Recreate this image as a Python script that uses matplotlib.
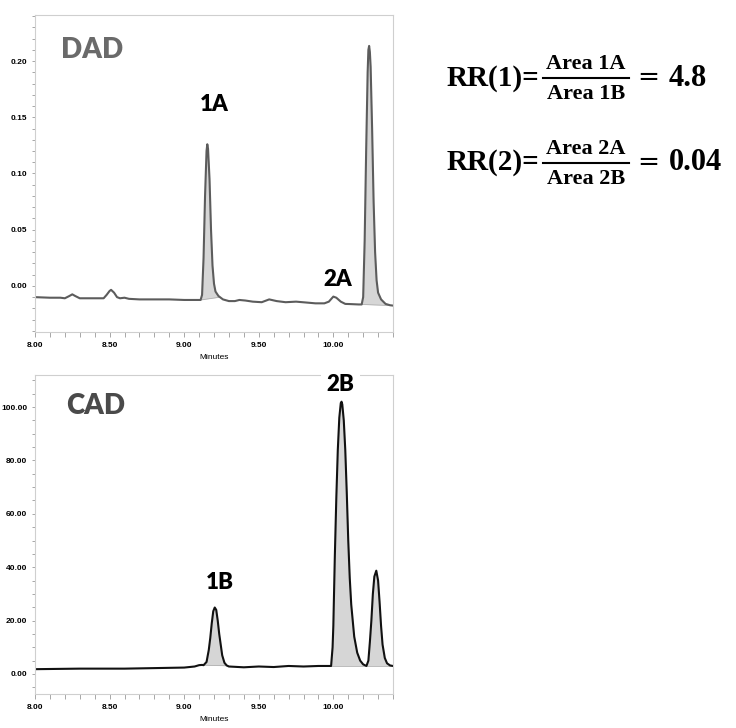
import numpy as np
import matplotlib.pyplot as plt
from matplotlib.ticker import MultipleLocator, FormatStrFormatter
from matplotlib.lines import Line2D

# DAD trace (minutes, AU)
dad_t = [8.00, 8.10, 8.17, 8.20, 8.23, 8.25, 8.27, 8.30, 8.35, 8.42, 8.46, 8.48, 8.50, 8.51,
         8.53, 8.55, 8.57, 8.60, 8.63, 8.70, 8.80, 8.90, 9.00, 9.08, 9.11, 9.12, 9.13, 9.14,
         9.15, 9.155, 9.16, 9.17, 9.18, 9.19, 9.20, 9.21, 9.23, 9.26, 9.30, 9.34, 9.37, 9.41,
         9.46, 9.52, 9.57, 9.62, 9.68, 9.75, 9.82, 9.88, 9.94, 9.97, 10.00, 10.02, 10.05, 10.08,
         10.12, 10.17, 10.19, 10.20, 10.21, 10.22, 10.23, 10.235, 10.24, 10.245, 10.25, 10.26,
         10.27, 10.28, 10.29, 10.30, 10.32, 10.35, 10.38, 10.40]
dad_y = [-0.0100, -0.0105, -0.0105, -0.0110, -0.0090, -0.0075, -0.0090, -0.0110, -0.0110,
         -0.0110, -0.0110, -0.0080, -0.0045, -0.0035, -0.0060, -0.0100, -0.0110, -0.0105,
         -0.0115, -0.0120, -0.0120, -0.0120, -0.0125, -0.0125, -0.0125, -0.0080, 0.0250,
         0.0800, 0.1200, 0.1260, 0.1220, 0.0950, 0.0500, 0.0180, 0.0020, -0.0050, -0.0090,
         -0.0120, -0.0135, -0.0135, -0.0125, -0.0130, -0.0140, -0.0145, -0.0120, -0.0135,
         -0.0145, -0.0140, -0.0148, -0.0155, -0.0155, -0.0140, -0.0095, -0.0105, -0.0140,
         -0.0160, -0.0162, -0.0165, -0.0165, -0.0100, 0.0400, 0.1200, 0.1900, 0.2100, 0.2135,
         0.2080, 0.1950, 0.1400, 0.0750, 0.0300, 0.0050, -0.0060, -0.0120, -0.0160, -0.0172,
         -0.0175]

# CAD trace (minutes, pA)
cad_t = [8.00, 8.30, 8.60, 8.80, 9.00, 9.07, 9.10, 9.12, 9.13, 9.15, 9.165, 9.175, 9.185,
         9.195, 9.205, 9.215, 9.225, 9.235, 9.245, 9.255, 9.27, 9.285, 9.30, 9.40, 9.50,
         9.60, 9.70, 9.80, 9.90, 9.985, 9.995, 10.00, 10.01, 10.02, 10.03, 10.04, 10.05,
         10.055, 10.06, 10.07, 10.08, 10.09, 10.10, 10.11, 10.12, 10.14, 10.16, 10.18, 10.20,
         10.222, 10.235, 10.245, 10.255, 10.265, 10.275, 10.288, 10.30, 10.31, 10.32, 10.33,
         10.345, 10.36, 10.38, 10.40]
cad_y = [1.8, 2.0, 2.0, 2.2, 2.4, 2.8, 3.3, 3.4, 3.3, 4.5, 9.0, 13.5, 19.0, 23.5, 24.9,
         24.0, 20.0, 15.0, 11.0, 7.0, 4.2, 3.2, 2.8, 2.5, 2.8, 2.6, 3.0, 2.8, 3.0, 3.0, 10.0,
         18.0, 44.0, 66.0, 84.0, 96.0, 101.5, 102.0, 101.0, 95.0, 84.0, 68.0, 50.0, 36.0,
         26.0, 14.0, 8.0, 5.0, 3.6, 3.0, 5.0, 12.0, 20.0, 30.0, 36.5, 38.7, 35.0, 27.0, 18.0,
         11.0, 6.0, 4.0, 3.2, 3.0]

# integrated peak windows (start, end)
dad_peaks = [(9.11, 9.24), (10.19, 10.40)]
cad_peaks = [(9.13, 9.29), (9.985, 10.222), (10.222, 10.40)]

dad_labels = ["1A", "2A"]
dad_label_pos = [(9.20, 0.1615), (10.032, 0.006)]
cad_labels = ["1B", "2B"]
cad_label_pos = [(9.237, 34.2), (10.049, 108.6)]

W, H = 736, 728


def px(x, y):
    return x / W, 1 - y / H


def style_axes(ax, major, minor, fmt):
    for s in ax.spines.values():
        s.set_color('#cfcfcf')
        s.set_linewidth(0.8)
    ax.xaxis.set_major_locator(MultipleLocator(0.5))
    ax.xaxis.set_minor_locator(MultipleLocator(0.1))
    ax.xaxis.set_major_formatter(FormatStrFormatter('%.2f'))
    ax.yaxis.set_major_locator(MultipleLocator(major))
    ax.yaxis.set_minor_locator(MultipleLocator(minor))
    ax.yaxis.set_major_formatter(FormatStrFormatter(fmt))
    ax.tick_params(which='both', direction='out', color='#999999', width=0.6)
    ax.tick_params(axis='x', which='both', length=3.5, pad=4)
    ax.tick_params(axis='y', which='both', length=2.5, pad=3)
    for lab in ax.get_xticklabels() + ax.get_yticklabels():
        lab.set_fontfamily('Liberation Sans')
        lab.set_fontweight('bold')
        lab.set_fontsize(6)
    ax.set_xlabel('Minutes', fontsize=6, family='Liberation Sans', labelpad=3)
    ax.set_xlim(8.0, 10.40)


def draw_trace(ax, t, y, peaks, color):
    t = np.array(t)
    y = np.array(y)
    for a, b in peaks:
        m = (t >= a) & (t <= b)
        ya, yb = np.interp(a, t, y), np.interp(b, t, y)
        base = ya + (yb - ya) * (t[m] - a) / (b - a)
        ax.fill_between(t[m], base, y[m], color='#d6d6d6', lw=0)
        ax.plot([a, b], [ya, yb], color='#aaaaaa', lw=0.5)
    ax.plot(t, y, color=color, lw=1.5, solid_joinstyle='round')


fig = plt.figure(figsize=(7.36, 7.28), dpi=100)

ax1 = fig.add_axes([35 / W, 1 - 332 / H, 358 / W, 317 / H])
draw_trace(ax1, dad_t, dad_y, dad_peaks, '#5c5c5c')
ax1.set_ylim(-0.041, 0.241)
style_axes(ax1, 0.05, 0.01, '%.2f')
ax1.text(8.381, 0.21, 'DAD', fontsize=20, fontweight='heavy', family='Lato',
         color='#6a6a6a', ha='center', va='center')
for lab, (x, y) in zip(dad_labels, dad_label_pos):
    ax1.text(x, y, lab, fontsize=16, fontweight='heavy', family='Lato',
             ha='center', va='center')

ax2 = fig.add_axes([35 / W, 1 - 694 / H, 358 / W, 319 / H])
draw_trace(ax2, cad_t, cad_y, cad_peaks, '#111111')
ax2.set_ylim(-7.5, 112)
style_axes(ax2, 20, 5, '%.2f')
ax2.text(8.408, 100.4, 'CAD', fontsize=20, fontweight='heavy', family='Lato',
         color='#4a4a4a', ha='center', va='center')
for lab, (x, y) in zip(cad_labels, cad_label_pos):
    ax2.text(x, y, lab, fontsize=16, fontweight='heavy', family='Lato',
             ha='center', va='center', clip_on=False, zorder=10,
             bbox=dict(facecolor='white', edgecolor='none', pad=4))

# relative response equations
rows = [("RR(1)=", "Area 1A", "Area 1B", "4.8", 78),
        ("RR(2)=", "Area 2A", "Area 2B", "0.04", 163)]
for lhs, num, den, rhs, yc in rows:
    fig.text(*px(447, yc), lhs, fontsize=21, fontweight='bold', family='Liberation Serif',
             ha='left', va='center')
    fig.text(*px(586, yc - 14), num, fontsize=16, fontweight='bold', family='Liberation Serif',
             ha='center', va='center')
    fig.text(*px(586, yc + 16), den, fontsize=16, fontweight='bold', family='Liberation Serif',
             ha='center', va='center')
    x0, y0 = px(543, yc)
    x1, _ = px(629, yc)
    fig.add_artist(Line2D([x0, x1], [y0, y0], color='black', lw=1.5, transform=fig.transFigure))
    fig.text(*px(637, yc), '=', fontsize=19, family='DejaVu Sans',
             ha='left', va='center')
    fig.text(*px(669, yc), rhs, fontsize=22, fontweight='bold', family='Liberation Serif',
             ha='left', va='center')

fig.savefig('out.png', dpi=100)
